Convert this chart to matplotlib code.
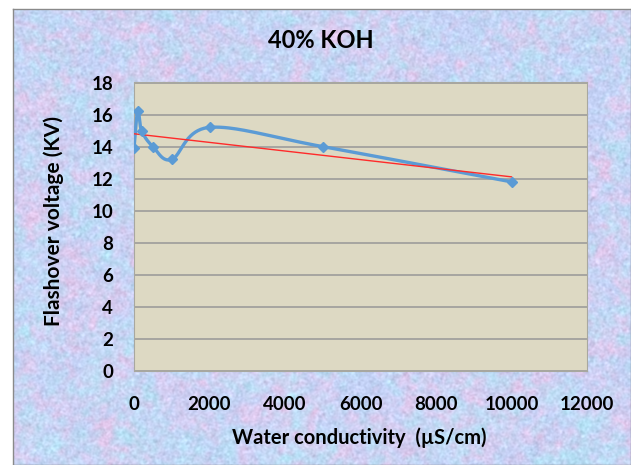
import numpy as np
import matplotlib
matplotlib.use("Agg")
import matplotlib.pyplot as plt

# ---- data ----
conductivity = [0, 100, 200, 500, 1000, 2000, 5000, 10000]
voltage = [13.9, 16.25, 15.0, 14.0, 13.2, 15.2, 14.0, 11.8]
x_ticks = [0, 2000, 4000, 6000, 8000, 10000, 12000]
y_ticks = [0, 2, 4, 6, 8, 10, 12, 14, 16, 18]
title = "40% KOH"
x_label = "Water conductivity  (µS/cm)"
y_label = "Flashover voltage (KV)"

W, H = 631, 465
fig = plt.figure(figsize=(W / 100, H / 100), dpi=100)
fig.patch.set_facecolor("white")
FONT = ["Lato", "DejaVu Sans"]

# ---- textured pastel background ----
rng = np.random.default_rng(7)
h, w = 456, 618


def smooth_noise(scale):
    n = rng.standard_normal((h, w))
    fy = np.fft.fftfreq(h)[:, None]
    fx = np.fft.fftfreq(w)[None, :]
    g = np.exp(-(fx ** 2 + fy ** 2) * (2 * np.pi * scale) ** 2 / 2)
    s = np.real(np.fft.ifft2(np.fft.fft2(n) * g))
    return (s - s.mean()) / s.std()


n_pink = 0.6 * smooth_noise(3) + 0.6 * smooth_noise(9)
n_cyan = 0.6 * smooth_noise(3) + 0.6 * smooth_noise(8)
n_fine = smooth_noise(0.9)
base = np.array([196, 210, 246], float)
pink = np.array([226, 200, 236], float)
cyan = np.array([182, 226, 246], float)
a_p = np.clip(0.4 + 0.3 * n_pink, 0, 1)[..., None]
a_c = np.clip(0.25 + 0.3 * n_cyan, 0, 1)[..., None]
img = base * (1 - a_p) + pink * a_p
img = img * (1 - a_c) + cyan * a_c
img += 6 * n_fine[..., None]
img = np.clip(img, 0, 255) / 255.0

bg = fig.add_axes([13 / W, 0, 1 - 13 / W, 1 - 9 / H])
bg.imshow(img, aspect="auto", interpolation="bilinear")
bg.set_xticks([])
bg.set_yticks([])
for s in bg.spines.values():
    s.set_color("#8a8a8a")
    s.set_linewidth(1)
bg.set_zorder(0)

# ---- plot area ----
left, right, top, bottom = 134, 587, 82.5, 371
ax = fig.add_axes([left / W, 1 - bottom / H, (right - left) / W, (bottom - top) / H])
ax.set_zorder(1)
ax.set_facecolor("#DDD9C3")
ax.set_xlim(0, 12000)
ax.set_ylim(0, 18)
ax.set_xticks(x_ticks)
ax.set_yticks(y_ticks)
ax.grid(axis="y", color="#979797", linewidth=1.1)
ax.set_axisbelow(True)
ax.tick_params(length=0)
ax.tick_params(axis="y", pad=15)
ax.tick_params(axis="x", pad=18)
for lab in ax.get_xticklabels() + ax.get_yticklabels():
    lab.set_family(FONT)
    lab.set_fontweight("bold")
    lab.set_fontsize(13.5)
for s in ax.spines.values():
    s.set_color("#a8a8a0")
    s.set_linewidth(0.8)

# smoothed series (Catmull-Rom style Bezier like Excel)
px = np.array(conductivity, float)
py = np.array(voltage, float)
P = np.column_stack([px, py])
n = len(P)
curve = []
t = np.linspace(0, 1, 40)[:, None]
for i in range(n - 1):
    p0 = P[i - 1] if i > 0 else P[i]
    p1 = P[i]
    p2 = P[i + 1]
    p3 = P[i + 2] if i + 2 < n else P[i + 1]
    c1 = p1 + (p2 - p0) / 6
    c2 = p2 - (p3 - p1) / 6
    seg = ((1 - t) ** 3) * p1 + 3 * ((1 - t) ** 2) * t * c1 + 3 * (1 - t) * t ** 2 * c2 + t ** 3 * p2
    curve.append(seg)
curve = np.vstack(curve)
ax.plot(curve[:, 0], curve[:, 1], color="#5B9BD5", linewidth=2.4, zorder=3,
        solid_capstyle="round")
ax.plot(px, py, linestyle="none", marker="D", markersize=5.5,
        color="#5B9BD5", zorder=4)

# linear trend line
k, b = np.polyfit(px, py, 1)
tx = np.array([px.min(), px.max()])
ax.plot(tx, k * tx + b, color="#FF2A2A", linewidth=1.0, zorder=3.5)

# ---- texts ----
fig.text(321 / W, 1 - 41 / H, title, ha="center", va="center",
         family=FONT, fontweight="bold", fontsize=17)
fig.text(359 / W, 1 - 438 / H, x_label, ha="center", va="center",
         family=FONT, fontweight="bold", fontsize=14.5)
fig.text(54 / W, 1 - 221 / H, y_label, ha="center", va="center", rotation=90,
         family=FONT, fontweight="bold", fontsize=15)

fig.savefig("out.png", dpi=100)
